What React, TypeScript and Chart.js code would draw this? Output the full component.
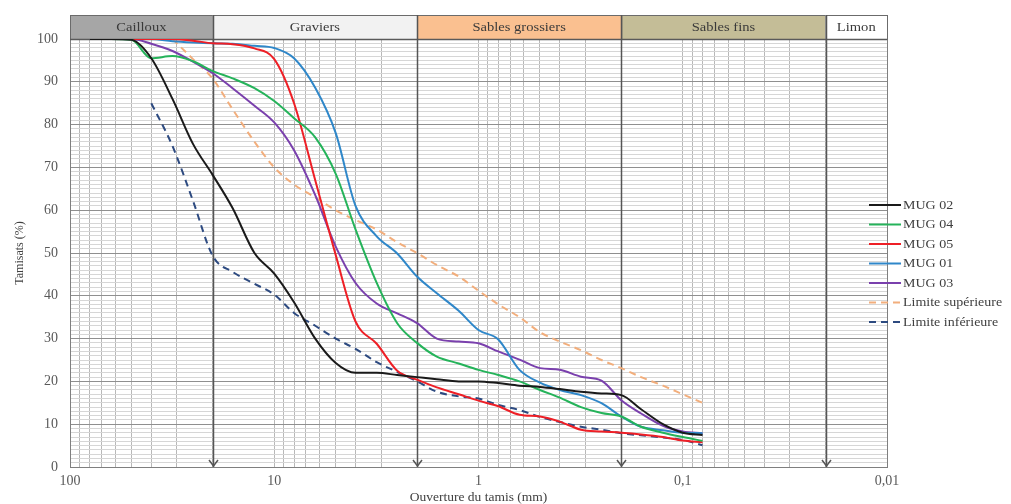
import React, { useEffect, useRef } from "react";
import { Chart, registerables } from "chart.js";

Chart.register(...registerables);

// Sieve openings (mm)
const SIEVES = [80, 63, 50, 40, 31.5, 25, 20, 16, 12.5, 10, 8, 6.3, 5, 4, 3.15, 2.5, 2, 1.6, 1.25, 1, 0.8, 0.63, 0.5, 0.4, 0.315, 0.25, 0.2, 0.16, 0.125, 0.1, 0.08];

// Passing percentages
const MUG02 = [100, 100, 99.8, 95.5, 86, 75.5, 68.2, 60.5, 50, 45.2, 38.5, 30, 24.3, 22, 22, 21.5, 21, 20.5, 20, 20, 19.6, 19, 18.7, 18.2, 17.6, 17.2, 16.8, 13.5, 10, 8, 7.5];
const MUG04 = [100, 100, 99.8, 95.5, 96, 94.8, 92.5, 90.8, 88.5, 85.5, 81.5, 77, 68.5, 55.5, 43, 33.6, 29, 25.8, 24.2, 22.7, 21.5, 20, 18, 16.2, 14, 12.6, 11.8, 9.4, 8, 7, 6.1];
const MUG05 = [100, 100, 100, 100, 100, 99.6, 99, 98.8, 97.8, 95.3, 85, 67, 49.5, 34, 28.8, 22.5, 20.4, 18.6, 17, 15.5, 14.2, 12.2, 11.8, 10.6, 8.7, 8.3, 8, 7.6, 7, 6.2, 5.8];
const MUG01 = [100, 100, 100, 100, 99.5, 99.2, 99, 98.9, 98.4, 97.9, 95.5, 88.6, 78, 61, 53.9, 49.9, 44.5, 40.6, 36.5, 32, 29.8, 22.7, 19.7, 18, 16.8, 14.9, 11.8, 9.4, 8.6, 8, 7.9];
const MUG03 = [100, 100, 100, 98.9, 97.2, 94.7, 92, 88.5, 84.4, 80.5, 74, 63.5, 51.5, 43, 38.2, 35.9, 33.6, 30, 29.3, 28.9, 27, 25.1, 23.1, 22.7, 21.1, 20.2, 15.6, 12.5, 9.6, 8.3, 7.9];
const LIM_SUP = [null, null, null, null, 100, 95.3, 90.7, 83.6, 76, 70, 66, 63, 60, 57.7, 55.5, 52.5, 50, 47.2, 44.5, 41.2, 38, 35, 31.5, 29.3, 27.3, 25, 23.1, 21, 19, 17, 15];
const LIM_INF = [null, null, null, 85, 75, 62.2, 49.3, 45.6, 42.8, 40.3, 36, 33, 30, 27.6, 24.5, 22.2, 20, 17.6, 16.5, 16, 14.5, 13.3, 11.7, 10.5, 9.4, 8.7, 7.9, 7.4, 6.9, 6.3, 5.1];

const SERIES_NAMES = ["MUG 02", "MUG 04", "MUG 05", "MUG 01", "MUG 03", "Limite supérieure", "Limite inférieure"];
const SERIES_VALUES = [MUG02, MUG04, MUG05, MUG01, MUG03, LIM_SUP, LIM_INF];
const SERIES_COLORS = ["#1a1a1a", "#25b35a", "#ee1f26", "#2f87c9", "#7a40ad", "#f2ae7c", "#2d4a80"];
const SERIES_DASH: number[][] = [[], [], [], [], [], [7, 5], [7, 5]];

// Soil classes band
const ZONE_NAMES = ["Cailloux", "Graviers", "Sables grossiers", "Sables fins", "Limon"];
const ZONE_BOUNDS = [100, 20, 2, 0.2, 0.02, 0.01];
const ZONE_COLORS = ["#a6a6a6", "#f2f2f2", "#fac090", "#c4bd97", "#ffffff"];
const ARROW_BOUNDS = [20, 2, 0.2, 0.02];

// Axis ticks
const X_MAJOR = [100, 10, 1, 0.1, 0.01];
const X_LABELS = ["100", "10", "1", "0,1", "0,01"];
const Y_MAJOR = [0, 10, 20, 30, 40, 50, 60, 70, 80, 90, 100];

const FONT = "'Liberation Serif', 'DejaVu Serif', 'Times New Roman', serif";

function buildXTicks() {
  const ticks: { value: number }[] = [];
  for (let e = -2; e <= 1; e++) {
    for (let m = 1; m <= 9; m++) ticks.push({ value: +(m * Math.pow(10, e)).toPrecision(6) });
  }
  ticks.push({ value: 100 });
  return ticks;
}

function buildYTicks() {
  const ticks: { value: number }[] = [];
  for (let v = 0; v <= 100; v++) ticks.push({ value: v });
  return ticks;
}

function stretchedText(ctx: any, text: string, x: number, y: number, sx: number, align: string) {
  ctx.save();
  ctx.translate(x, y);
  ctx.scale(sx, 1);
  ctx.textAlign = align;
  ctx.fillText(text, 0, 0);
  ctx.restore();
}

const decorPlugin = {
  id: "decor",
  beforeDatasetsDraw(chart: any) {
    const { ctx, chartArea, scales } = chart;
    const xs = scales.x;
    const bandTop = chartArea.top - 24;
    ctx.save();
    // band
    for (let i = 0; i < ZONE_NAMES.length; i++) {
      const x1 = xs.getPixelForValue(ZONE_BOUNDS[i]);
      const x2 = xs.getPixelForValue(ZONE_BOUNDS[i + 1]);
      ctx.fillStyle = ZONE_COLORS[i];
      ctx.fillRect(x1, bandTop, x2 - x1, 24);
      ctx.strokeStyle = "#6b6b6b";
      ctx.lineWidth = 1;
      ctx.strokeRect(x1 + 0.5, bandTop + 0.5, x2 - x1, 24);
      ctx.fillStyle = "#3a3a3a";
      ctx.font = `13px ${FONT}`;
      ctx.textBaseline = "middle";
      stretchedText(ctx, ZONE_NAMES[i], (x1 + x2) / 2, bandTop + 12.5, 1.12, "center");
    }
    ctx.strokeStyle = "#5a5a5a";
    ctx.lineWidth = 1.6;
    ctx.beginPath();
    ctx.moveTo(chartArea.left, chartArea.top + 0.5);
    ctx.lineTo(chartArea.right, chartArea.top + 0.5);
    ctx.stroke();
    // boundary lines with arrows
    for (const v of ARROW_BOUNDS) {
      const x = Math.round(xs.getPixelForValue(v)) + 0.5;
      ctx.strokeStyle = "#555555";
      ctx.lineWidth = 1.5;
      ctx.beginPath();
      ctx.moveTo(x, bandTop);
      ctx.lineTo(x, chartArea.bottom);
      ctx.stroke();
      ctx.beginPath();
      ctx.moveTo(x - 4.5, chartArea.bottom - 7);
      ctx.lineTo(x, chartArea.bottom - 1);
      ctx.lineTo(x + 4.5, chartArea.bottom - 7);
      ctx.stroke();
    }
    ctx.restore();
  },
  afterDraw(chart: any) {
    const { ctx } = chart;
    ctx.save();
    const x0 = 869;
    const x1 = 901;
    let y = 205;
    for (let i = 0; i < SERIES_NAMES.length; i++) {
      ctx.strokeStyle = SERIES_COLORS[i];
      ctx.lineWidth = 2;
      ctx.setLineDash(SERIES_DASH[i]);
      ctx.beginPath();
      ctx.moveTo(x0, y);
      ctx.lineTo(x1, y);
      ctx.stroke();
      ctx.setLineDash([]);
      ctx.fillStyle = "#404040";
      ctx.font = `12.5px ${FONT}`;
      ctx.textBaseline = "middle";
      stretchedText(ctx, SERIES_NAMES[i], x1 + 2, y + 0.5, 1.12, "left");
      y += 19.5;
    }
    ctx.restore();
  },
};

export default function App() {
  const ref = useRef<HTMLCanvasElement | null>(null);

  useEffect(() => {
    if (!ref.current) return;
    const datasets = SERIES_NAMES.map((name, i) => ({
      label: name,
      data: SIEVES.map((s, j) => ({ x: s, y: SERIES_VALUES[i][j] })).filter((p) => p.y !== null),
      borderColor: SERIES_COLORS[i],
      backgroundColor: SERIES_COLORS[i],
      borderWidth: 2,
      borderDash: SERIES_DASH[i],
      pointRadius: 0,
      tension: 0.4,
      cubicInterpolationMode: "monotone" as const,
      fill: false,
    }));

    const chart = new Chart(ref.current, {
      type: "line",
      data: { datasets },
      plugins: [decorPlugin],
      options: {
        animation: false,
        responsive: false,
        layout: { padding: { left: 0, top: 39, right: 124, bottom: 0 } },
        plugins: { legend: { display: false }, tooltip: { enabled: false } },
        scales: {
          x: {
            type: "logarithmic",
            reverse: true,
            min: 0.01,
            max: 100,
            afterBuildTicks: (scale: any) => {
              scale.ticks = buildXTicks();
            },
            afterFit: (scale: any) => {
              scale.height = 37;
            },
            ticks: {
              autoSkip: false,
              maxRotation: 0,
              minRotation: 0,
              padding: 6,
              color: "#595959",
              font: { family: FONT, size: 14 },
              callback: (v: any) => {
                const val = Number(v);
                const idx = X_MAJOR.findIndex((m) => Math.abs(m - val) / m < 1e-6);
                return idx >= 0 ? X_LABELS[idx] : "";
              },
            },
            grid: {
              drawTicks: false,
              color: (c: any) => (c.tick && Math.abs(c.tick.value - 0.01) < 1e-9 ? "#7f7f7f" : "#b8b8b8"),
              lineWidth: 1,
            },
            border: { display: true, color: "#7f7f7f", width: 1 },
            title: {
              display: true,
              text: "Ouverture du tamis (mm)",
              color: "#404040",
              font: { family: FONT, size: 13.5 },
              padding: { top: 0, bottom: -2 },
            },
          },
          y: {
            type: "linear",
            min: 0,
            max: 100,
            afterBuildTicks: (scale: any) => {
              scale.ticks = buildYTicks();
            },
            afterFit: (scale: any) => {
              scale.width = 70;
            },
            ticks: {
              autoSkip: false,
              padding: 12,
              color: "#595959",
              font: { family: FONT, size: 14 },
              callback: (v: any) => (Y_MAJOR.includes(Number(v)) ? String(v) : ""),
            },
            grid: {
              drawTicks: false,
              color: (c: any) => (c.tick && Y_MAJOR.includes(c.tick.value) ? "#8f8f8f" : "#d6d6d6"),
              lineWidth: 1,
            },
            border: { display: true, color: "#7f7f7f", width: 1 },
            title: {
              display: true,
              text: "Tamisats (%)",
              color: "#404040",
              font: { family: FONT, size: 12 },
              padding: { top: 13, bottom: 0 },
            },
          },
        },
      },
    });
    return () => chart.destroy();
  }, []);

  return (
    <div style={{ position: "absolute", left: 0, top: 0, width: 1011, height: 504, background: "#fff" }}>
      <canvas ref={ref} width={1011} height={504} style={{ display: "block" }} />
    </div>
  );
}
